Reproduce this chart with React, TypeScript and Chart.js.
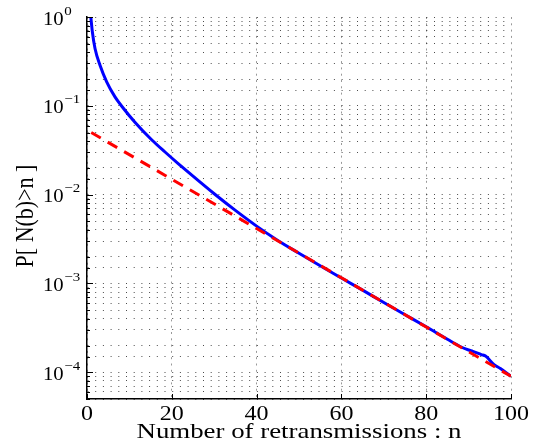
import React, { useEffect, useRef } from 'react';
import { Chart, registerables } from 'chart.js';

Chart.register(...registerables);

// Blue solid curve: P[N(b) > n]
const blueN = [0.9, 1.26, 1.89, 3.07, 4.64, 6.6, 8.2, 11.3, 15.3, 18.4, 21.5, 25, 30, 35, 40, 45, 50, 55, 60, 65, 70, 75, 80, 85, 88, 90, 91, 93, 94, 96, 97.5, 100];
const blueP = [1.0, 0.683, 0.442, 0.286, 0.186, 0.126, 0.0989, 0.0653, 0.0412, 0.0302, 0.0224, 0.01614, 0.01023, 0.00664, 0.00442, 0.00305, 0.00219, 0.00158, 0.00115, 0.00084, 0.00061, 0.000445, 0.000325, 0.000235, 0.000195, 0.000178, 0.000172, 0.000158, 0.000152, 0.000122, 0.00011, 0.00009];

// Red dashed asymptote
const redN = [1, 20, 40, 60, 80, 100];
const redP = [0.05, 0.0149, 0.00415, 0.00116, 0.000323, 0.00009];

const xTickStep = 20;
const xMin = 0;
const xMax = 100;
const yMin = 5e-5;
const yMax = 1;

const xTitle = 'Number of retransmissions : n';
const yTitle = 'P[ N(b)>n ]';

const FONT = "'Liberation Serif', 'Times New Roman', Times, serif";

const isPow10 = (v: number) => {
  const l = Math.log10(v);
  return Math.abs(l - Math.round(l)) < 1e-9;
};

const textPlugin = {
  id: 'matlabText',
  afterDraw(chart: any) {
    const ctx: CanvasRenderingContext2D = chart.ctx;
    const xs = chart.scales.x;
    const ys = chart.scales.y;
    const area = chart.chartArea;
    ctx.save();
    // inward ticks
    ctx.strokeStyle = '#000';
    ctx.lineWidth = 1;
    ys.ticks.forEach((t: any) => {
      const y = Math.round(ys.getPixelForValue(t.value)) + 0.5;
      const len = isPow10(t.value) ? 6 : 3;
      ctx.beginPath();
      ctx.moveTo(area.left, y);
      ctx.lineTo(area.left + len, y);
      ctx.stroke();
    });
    xs.ticks.forEach((t: any) => {
      const x = Math.round(xs.getPixelForValue(t.value)) + 0.5;
      ctx.beginPath();
      ctx.moveTo(x, area.bottom);
      ctx.lineTo(x, area.bottom - 5);
      ctx.stroke();
    });

    ctx.fillStyle = '#000';
    // x tick labels
    ctx.font = `20px ${FONT}`;
    ctx.textAlign = 'center';
    ctx.textBaseline = 'alphabetic';
    xs.ticks.forEach((t: any) => {
      const x = xs.getPixelForValue(t.value);
      ctx.save();
      ctx.translate(x, area.bottom + 21);
      ctx.scale(1.2, 1);
      ctx.fillText(String(t.label), 0, 0);
      ctx.restore();
    });

    // y tick labels 10^k
    ys.ticks.forEach((t: any) => {
      if (!isPow10(t.value)) return;
      const e = Math.round(Math.log10(t.value));
      const y = ys.getPixelForValue(t.value);
      ctx.save();
      ctx.translate(43, y);
      ctx.scale(1.15, 1);
      ctx.textAlign = 'left';
      ctx.textBaseline = 'alphabetic';
      ctx.font = `18px ${FONT}`;
      ctx.fillText('10', 0, 7.5);
      const w = ctx.measureText('10').width;
      ctx.font = `13px ${FONT}`;
      ctx.fillText(e === 0 ? '0' : '\u2212' + String(-e), w + 0.5, -2.5);
      ctx.restore();
    });

    // x title
    ctx.save();
    ctx.translate((area.left + area.right) / 2, 438);
    ctx.scale(1.22, 1);
    ctx.font = `22px ${FONT}`;
    ctx.textAlign = 'center';
    ctx.textBaseline = 'alphabetic';
    ctx.fillText(xTitle, 0, 0);
    ctx.restore();

    // y title
    ctx.save();
    ctx.translate(27, (area.top + area.bottom) / 2 + 8);
    ctx.scale(1.1, 1);
    ctx.rotate(-Math.PI / 2);
    ctx.font = `22px ${FONT}`;
    ctx.textAlign = 'center';
    ctx.textBaseline = 'middle';
    ctx.fillText(yTitle, 0, 0);
    ctx.restore();

    ctx.restore();
  },
};

export default function App() {
  const ref = useRef<HTMLCanvasElement | null>(null);

  useEffect(() => {
    if (!ref.current) return;
    const chart = new Chart(ref.current, {
      type: 'line',
      data: {
        datasets: [
          {
            label: 'asymptote',
            data: redN.map((n, i) => ({ x: n, y: redP[i] })),
            borderColor: '#ff0000',
            borderWidth: 3,
            borderDash: [11, 8],
            pointRadius: 0,
            fill: false,
            tension: 0,
          },
          {
            label: 'P[N(b)>n]',
            data: blueN.map((n, i) => ({ x: n, y: blueP[i] })),
            borderColor: '#0000ff',
            borderWidth: 3,
            pointRadius: 0,
            fill: false,
            cubicInterpolationMode: 'monotone',
          },
        ],
      },
      options: {
        animation: false,
        responsive: false,
        devicePixelRatio: 1,
        layout: { padding: { left: 87, right: 33, top: 17, bottom: 47 } },
        plugins: { legend: { display: false }, tooltip: { enabled: false } },
        scales: {
          x: {
            type: 'linear',
            min: xMin,
            max: xMax,
            ticks: { display: false, stepSize: xTickStep },
            grid: { color: 'rgba(0,0,0,0.4)', lineWidth: 1, drawTicks: false },
            border: { display: true, color: '#000', width: 1.5, dash: [2, 4.3] },
          },
          y: {
            type: 'logarithmic',
            min: yMin,
            max: yMax,
            ticks: { display: false },
            grid: { color: 'rgba(0,0,0,0.7)', lineWidth: 1, drawTicks: false },
            border: { display: true, color: '#000', width: 1.5, dash: [1, 6.7] },
          },
        },
      },
      plugins: [textPlugin],
    } as any);
    return () => chart.destroy();
  }, []);

  return (
    <div style={{ position: 'fixed', left: 0, top: 0, width: 544, height: 446, background: '#fff' }}>
      <canvas ref={ref} width={544} height={446} />
    </div>
  );
}
